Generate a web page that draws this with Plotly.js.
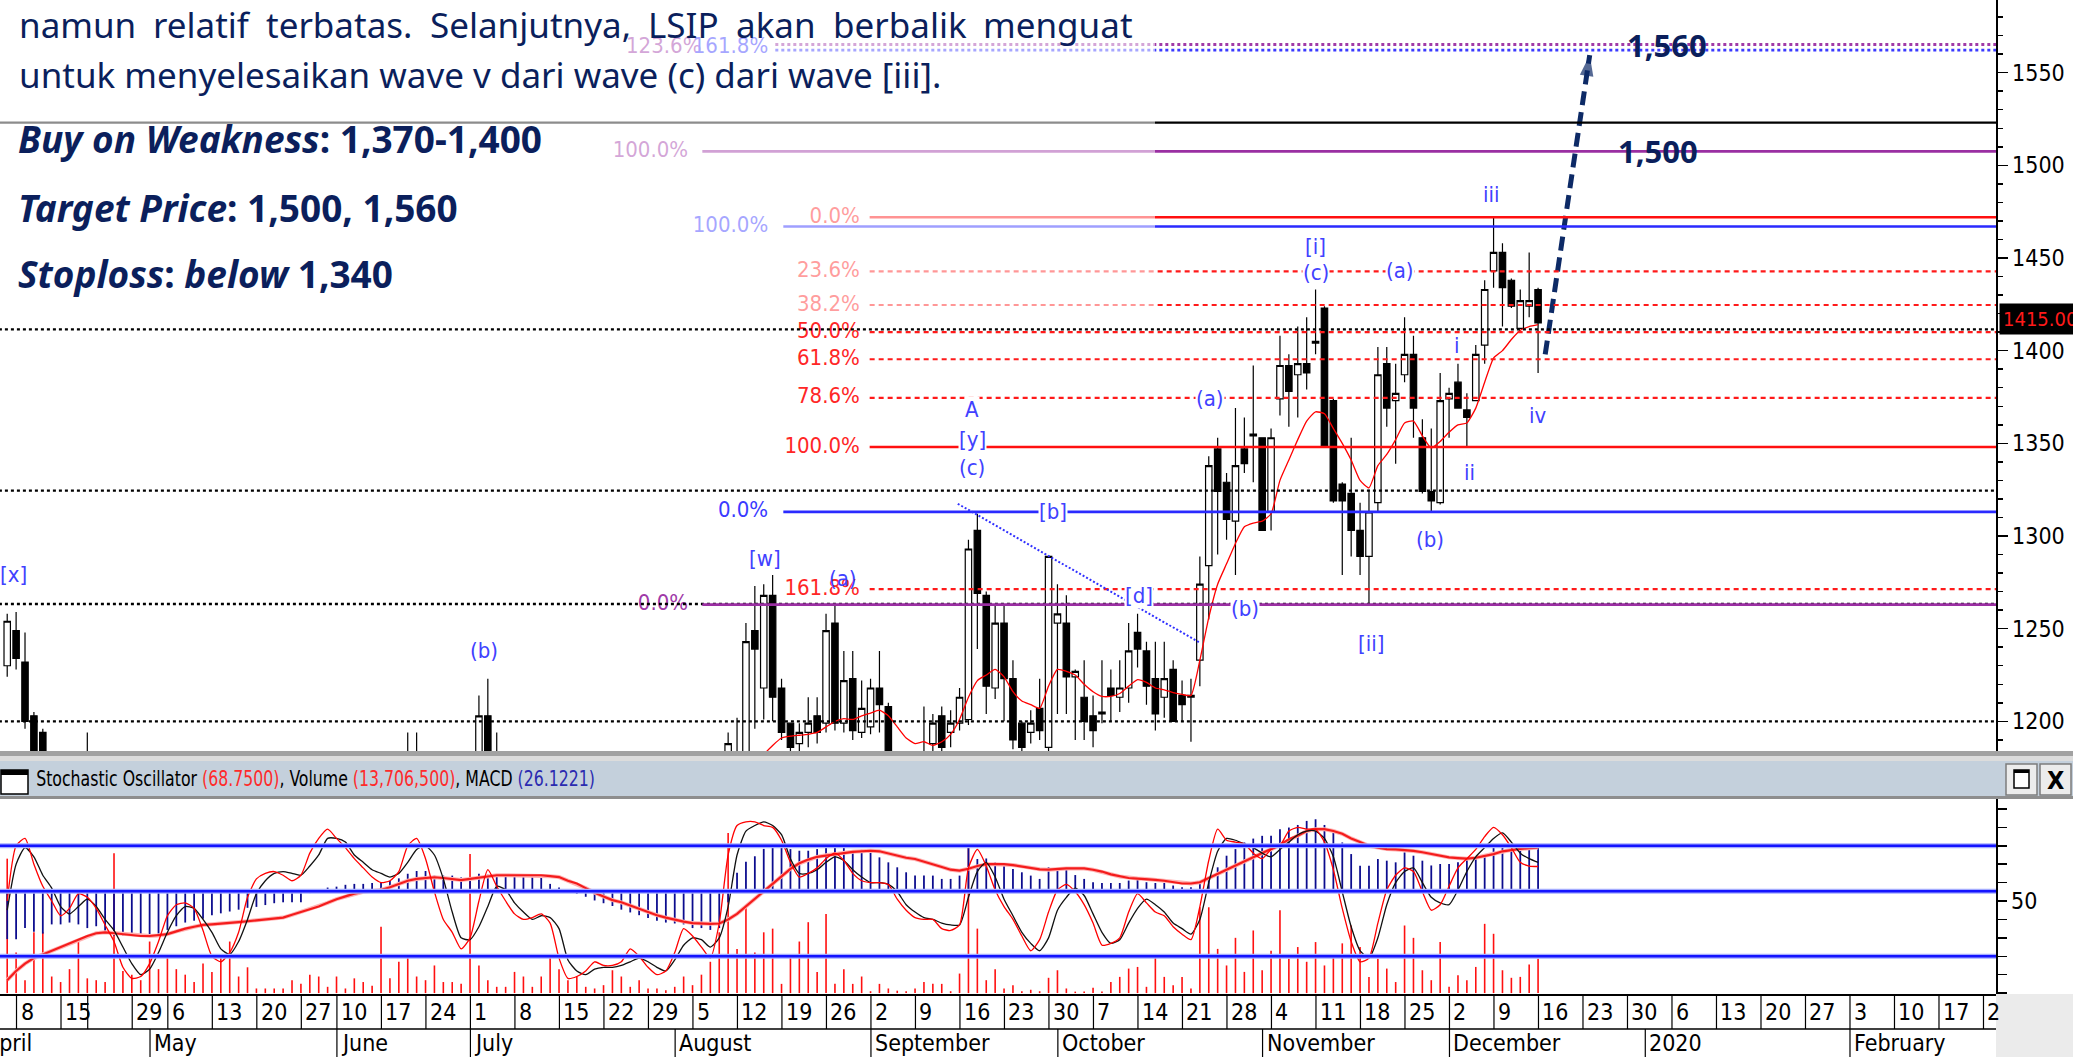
<!DOCTYPE html>
<html><head><meta charset="utf-8">
<script src="https://cdn.plot.ly/plotly-3.0.1.min.js"></script>
<style>html,body{margin:0;padding:0;background:#fff;overflow:hidden}#chart{width:2073px;height:1057px}</style>
</head><body><div id="chart"></div>
<script>
// ================= DATA =================
const holidays = ['2019-04-03','2019-04-17','2019-04-19','2019-05-01','2019-05-30',
  '2019-06-03','2019-06-04','2019-06-05','2019-06-06','2019-06-07'];
const axisStart = '2019-04-01', firstBarDate = '2019-04-04', lastBarDate = '2019-12-13', axisEnd = '2020-02-28';

const open = [1230,1249,1232,1203,1194,1172,1165,1150,1160,1168,
 1172,1160,1145,1130,1110,1098,1095,1104,1115,1126,
 1132,1134,1128,1114,1100,1096,1104,1114,1126,1132,
 1134,1136,1132,1131,1138,1146,1154,1158,1150,1148,
 1144,1142,1140,1142,1152,1168,1176,1172,1158,1146,
 1136,1130,1128,1150,1203,1176,1166,1156,1150,1146,
 1150,1152,1136,1116,1102,1104,1108,1112,1106,1108,
 1112,1118,1108,1098,1094,1102,1116,1130,1122,1114,
 1108,1150,1182,1176,1249,1218,1268,1218,1199,1188,
 1194,1203,1199,1253,1199,1223,1194,1197,1218,1208,
 1180,1170,1175,1172,1188,1203,1194,1199,1201,1303,
 1268,1218,1253,1223,1199,1194,1207,1186,1253,1253,
 1224,1213,1203,1204,1218,1213,1218,1248,1238,1223,
 1213,1228,1214,1213,1233,1284,1347,1329,1308,1347,
 1354,1353,1313,1374,1392,1387,1393,1404,1423,1373,
 1328,1323,1303,1289,1318,1393,1373,1387,1398,1353,
 1324,1318,1374,1383,1368,1373,1403,1443,1453,1438,
 1412,1424,1433];
const high = [1258,1259,1248,1205,1196,1180,1172,1165,1172,1194,
 1178,1165,1150,1135,1115,1104,1108,1118,1130,1138,
 1140,1138,1130,1118,1105,1108,1118,1130,1136,1140,
 1140,1140,1138,1142,1150,1158,1162,1160,1156,1152,
 1150,1146,1148,1158,1172,1194,1194,1176,1162,1150,
 1142,1136,1150,1214,1223,1194,1172,1162,1158,1156,
 1160,1156,1140,1120,1110,1112,1116,1116,1114,1118,
 1124,1120,1112,1104,1106,1120,1135,1134,1128,1120,
 1140,1194,1202,1253,1273,1274,1279,1223,1199,1199,
 1213,1213,1258,1263,1238,1238,1222,1223,1238,1210,
 1183,1178,1181,1208,1204,1208,1206,1218,1298,1312,
 1270,1263,1263,1233,1200,1206,1223,1289,1274,1268,
 1228,1233,1214,1233,1228,1233,1253,1258,1243,1243,
 1243,1233,1222,1223,1289,1343,1353,1334,1369,1364,
 1392,1353,1358,1408,1398,1413,1418,1433,1424,1374,
 1329,1353,1318,1325,1402,1402,1393,1418,1408,1363,
 1358,1388,1380,1393,1377,1403,1438,1472,1458,1439,
 1433,1453,1434];
const low = [1224,1228,1196,1176,1168,1158,1145,1146,1152,1160,
 1155,1140,1125,1105,1092,1088,1090,1100,1110,1120,
 1125,1122,1110,1096,1090,1092,1100,1110,1120,1126,
 1128,1128,1126,1128,1134,1142,1148,1146,1142,1138,
 1136,1134,1134,1138,1148,1160,1166,1154,1142,1132,
 1126,1122,1124,1146,1170,1162,1150,1144,1140,1140,
 1144,1132,1112,1098,1096,1098,1102,1100,1100,1102,
 1106,1104,1094,1088,1090,1098,1110,1116,1108,1100,
 1104,1146,1170,1172,1196,1201,1200,1190,1178,1182,
 1186,1188,1194,1195,1194,1190,1191,1193,1194,1175,
 1165,1160,1165,1168,1182,1180,1186,1195,1198,1239,
 1204,1212,1200,1185,1180,1188,1190,1183,1204,1204,
 1190,1190,1186,1199,1200,1205,1210,1229,1209,1195,
 1202,1200,1200,1189,1219,1255,1290,1298,1279,1334,
 1329,1303,1303,1365,1359,1364,1379,1398,1348,1318,
 1279,1289,1279,1263,1313,1359,1339,1383,1353,1323,
 1313,1317,1353,1369,1348,1373,1393,1434,1413,1423,
 1412,1418,1388];
const close = [1254,1234,1200,1180,1172,1165,1150,1160,1168,1172,
 1160,1145,1130,1110,1098,1095,1104,1115,1126,1132,
 1134,1128,1114,1100,1096,1104,1114,1126,1132,1134,
 1136,1132,1131,1138,1146,1154,1158,1150,1148,1144,
 1142,1140,1142,1152,1168,1176,1172,1158,1146,1136,
 1130,1128,1146,1203,1176,1166,1156,1150,1146,1150,
 1152,1136,1116,1102,1104,1108,1112,1106,1108,1112,
 1118,1108,1098,1094,1102,1116,1130,1122,1114,1108,
 1136,1188,1176,1243,1239,1268,1213,1194,1186,1194,
 1199,1194,1249,1199,1222,1195,1207,1218,1209,1180,
 1170,1175,1172,1180,1199,1186,1199,1213,1293,1269,
 1219,1253,1223,1190,1186,1199,1195,1289,1258,1224,
 1227,1200,1195,1205,1214,1218,1238,1239,1219,1204,
 1223,1200,1209,1214,1274,1338,1324,1309,1338,1339,
 1355,1303,1353,1392,1378,1393,1388,1405,1348,1319,
 1319,1303,1289,1313,1387,1369,1377,1398,1369,1324,
 1319,1373,1377,1369,1364,1398,1433,1453,1434,1424,
 1427,1427,1415];
// moving average (red line on price), starts at bar number maOffset
const maOffset = 84;
const ma = [1176,1182,1187,1191,1192,1192.5,1193,1194,1197,1200,
 1201.5,1201,1203,1204.5,1206,1203,1197,1191,1188,1189,
 1187,1189,1193,1201,1213,1222,1225,1228,1224,1216,
 1211,1209,1207,1219,1228,1227,1225,1220,1216,1213.5,
 1213.5,1215,1219,1222.5,1221,1218,1217,1215.5,1214.5,1214,
 1233,1256,1274,1285,1296,1305,1307,1308,1312,1330,
 1341,1352,1362,1367,1366,1358,1350,1341,1330,1326,
 1338,1344,1352,1361,1362,1354,1347.5,1351,1356,1360,
 1361,1369,1383,1396,1400,1406,1411,1413,1414];
// lower panel (values in the panel's 0-100 display scale)
const stochK = [50,80,84,70,58,50,42,46,54,52,
 46,37,28,14,8,9,16,28,42,48,
 49,46,34,20,17,22,33,52,62,65,
 66,64,61,64,76,84,89,84,79,73,
 68,63,60,61,66,80,84,73,55,40,
 33,24,30,50,67,58,50,43,40,41,
 43,38,19,8,9,12,17,15,15,17,
 24,20,14,10,12,22,35,31,25,19,
 38,75,91,93,93,91,90,83,71,63,
 65,68,73,76,72,65,61,60,60,59,
 51,45,41,40,40,35,34,37,68,78,
 69,56,47,40,31,23,29,44,56,59,
 55,48,38,26,27,30,44,54,49,44,
 42,36,32,29,47,72,89,83,82,81,
 76,73,78,80,88,90,89,89,82,67,
 46,28,17,19,38,56,64,68,66,55,
 45,48,58,68,73,78,85,90,86,79,
 71,69,68.75];
const stochD = [45,70,79,74,64,57,47,43,47,51,
 47,40,34,25,16,10,13,22,33,42,
 47,46,40,33,24,21,28,40,54,61,
 65,66,65,64,69,75,84,84,82,75,
 71,67,65,63,65,71,78,80,75,62,
 44,30,29,36,47,58,56,49,44,40,
 42,41,35,18,12,10,13,14,14,15,
 17,19,17,14,12,18,26,30,29,25,
 30,47,75,88,91,93,91,86,73,65,
 65,67,71,74,72,67,63,60,60,59,
 55,48,44,41,40,38,37,37,52,66,
 71,63,51,42,33,27,23,30,45,52,
 57,53,43,33,27,29,38,46,51,48,
 44,38,35,32,40,60,77,84,83,81,
 79,76,74,78,82,86,88,88,84,74,
 55,36,23,19,30,48,60,66,68,60,
 52,49,48,56,66,74,79,84,87,82,
 76,73,71];
const signal = [7,12,16,19,21,23,25,27,29,31,
 32.5,33,32.5,32,31.5,31,31,31.3,32,33.5,
 35,36,37,37.3,37.6,38,38.5,39,39.6,40,
 40.5,41,42.5,44,45.5,47,49,51,52.5,54,
 55,55.5,56,57.5,59.3,61,62,62.5,62.9,62.5,
 62,61.4,62,62.8,63.5,64,64,64,64,64,
 64,63.5,63,61,59.5,57,54.5,52.5,50.5,49.3,
 47.5,45.8,44,42.3,41,39.8,38.8,38,37.6,37.6,
 37.8,40,43,47,51,55,59.5,63,67.5,70.5,
 72.5,74,74.8,75.5,76,76.7,77,77.3,77,75.8,
 74.5,73.5,72.8,71.5,70,68.5,67,66.5,67.5,69,
 70,70,70,69.5,68.8,68,67.2,67,67.5,67.7,
 67.7,67.7,67,66,64.5,63.3,62.5,62.2,62,61.5,
 61,60.3,59.5,59.5,60.2,62.5,64.7,67,69.2,71.5,
 73.7,76,78,80.5,83.5,85.5,88,89,89,88,
 86.5,84,82,80,79,78.2,78,77.8,77.2,76.5,
 75.5,74.5,73.7,73.3,73,73.5,74.5,75.5,77,77.8,
 78.3,78.7,79];
const macd = [-26,-26,-20,-22,-23,-18,-18,-17,-18,-20,
 -19,-23,-24,-24,-24,-24,-24,-23,-21,-19,
 -17,-16,-15,-13,-12,-11,-10,-9,-8.5,-7.5,
 -6.5,-6,-6,-6,-1,1,2,2.5,3.5,4,
 4,4.5,5,5.5,7,9.5,11,11,8.5,8.5,
 8.5,7.5,7,9.5,9,8.8,8.8,8.8,8.8,8.5,
 7.6,4,2,0.5,-1.5,-3,-5,-6.5,-8,-10,
 -11.5,-13,-14.5,-16,-17,-17.5,-18,-20,-20,-21,
 -20,-6,10,16,19,23,25.6,24.7,22.9,22,
 22,22.9,24.3,24.3,23.8,22,22.5,22,18.4,15.7,
 13,10.3,8.5,8.5,8.5,6.7,6.7,8.5,23.8,17.5,
 17.8,15.7,14,12.1,10.3,8.5,6.7,13,11.2,11.7,
 8.8,6.7,4.9,4.5,4.5,4.5,5.8,6.7,4.9,4.5,
 4.5,3.1,2.2,2.2,5.2,6.7,13,19.3,22.9,26.5,
 28.6,30.1,30.1,33.7,34.6,36,38.2,39.1,36,31.9,
 26.5,20.2,13.9,13.9,17.5,16.6,15.7,21.1,19.3,16.6,
 14,14.8,14.8,15.7,17.5,18.4,20.2,24.7,25.6,24.7,
 23.8,24.7,24.7];
const volume = [73,22,7,33,33,9,6,13,28,8,
 7,6,76,12,10,7,28,13,20,13,
 10,6,16,11.5,20.5,28,9,14,2.5,2.5,
 2.5,2.5,7,5,10,9,3.4,9,2.5,8,
 6,4,36,8,17,20.5,9,7,15,6,
 6,5,75.5,15,7,3.4,3.4,11.5,9,3.4,
 9,20.5,13,7,9,3.4,2.5,4.3,12.4,9,
 3.4,7,2.5,2.5,1.6,3.4,9,4.3,10,17,
 33,87,24,46.6,22,33,35,5,21,28,
 38.5,11.5,43,5,13,5,9,1,5,2.5,
 1.3,1,2.5,6,5,5,1,10.6,79,35,
 7,13,2.5,4.3,1,1.8,1,8.3,12.4,2.5,
 0.8,0.8,2.9,0.8,6,8.8,13.3,14.2,3.4,20.5,
 8.8,4.3,8.8,2.5,46.6,46.6,24,15,30,11.5,
 34,12.4,23,45,18.7,25,17,27.7,15,20.5,
 27,36.7,25,8.8,18.7,13.3,6,36.7,30,12.4,
 7,27.7,3.4,9.7,7,14.2,37.6,32.2,12.4,8.3,
 8.8,15.5,18.7];
const stochBands = [80, 20];
const macdZero = 55.3;

// Fibonacci sets: [anchor 0%, anchor 100%]
const fibPurple = [1263, 1507.5], fibPurpleLevels = [0, 1, 1.236];
const fibBlue = [1313, 1467], fibBlueLevels = [0, 1, 1.618];
const fibRed = [1472, 1348], fibRedLevels = [0, 0.236, 0.382, 0.5, 0.618, 0.786, 1, 1.618];
const blackDotted = [1411.5, 1324.5, 1263.3, 1200];
const blackSolid = [1523];
const trendLine = [[108.8, 1317.4], [136.0, 1242.4]];
const projection = [[174.8, 1398], [179.8, 1559.5]];
const targets = [['1,560', 188.5, 1565], ['1,500', 187.5, 1507.5]];
const lastPrice = '1415.000';
const waveLabels = [
 ['[x]', 2.7, 1279, 0], ['(b)', 55.6, 1238, 0], ['[w]', 87.1, 1288, 0], ['(a)', 95.9, 1277, 0],
 ['A', 110.4, 1368, 1], ['[y]', 110.4, 1352, 1], ['(c)', 110.4, 1337, 0], ['[b]', 119.5, 1313, 1],
 ['[d]', 129.2, 1268, 1], ['(a)', 137.1, 1374, 1], ['(b)', 141.1, 1261, 1], ['[i]', 149.0, 1456, 0],
 ['(c)', 149.0, 1442, 1], ['(a)', 158.5, 1443, 1], ['[ii]', 155.2, 1242, 0], ['(b)', 161.9, 1298, 0],
 ['i', 164.9, 1403, 0], ['ii', 166.3, 1334, 0], ['iii', 168.8, 1484, 0], ['iv', 174.0, 1365, 0]];
const hiddenWeekLabels = ['2019-04-22'];
const monthNames = ['January','February','March','April','May','June','July','August','September','October','November','December'];
const headerParts = [['Stochastic Oscillator ', '#000'], ['(68.7500)', '#ff2a2a'], [', Volume ', '#000'], ['(13,706,500)', '#ff2a2a'], [', MACD ', '#000'], ['(26.1221)', '#2b2bb0']];
const paraLine1 = ['namun','relatif','terbatas.','Selanjutnya,','LSIP','akan','berbalik','menguat'];
const paraLine2 = 'untuk menyelesaikan wave v dari wave (c) dari wave [iii].';
const tradeLines = ['<b><i>Buy on Weakness</i>: 1,370-1,400</b>', '<b><i>Target Price</i>: 1,500, 1,560</b>', '<b><i>Stoploss</i>: <i>below</i> 1,340</b>'];

// ================= BUILD =================
const W = 2073, H = 1057, PLOTW = 1996, DAYPX = 8.9;
const NARROW = '"Liberation Sans Narrow","Arial Narrow","DejaVu Sans Condensed","Liberation Sans",sans-serif';
const NAVY = '#0b1f5c';
const PARA_SIZE = 35, TRADE_SIZE = 37, HEADER_SIZE = 21;
function ymd(d){return d.toISOString().slice(0,10);}
const axisDays = [];
for (let d = new Date(axisStart+'T00:00:00Z'); ymd(d) <= axisEnd; d.setUTCDate(d.getUTCDate()+1)) {
  const wd = d.getUTCDay(); if (wd===0 || wd===6) continue;
  const s = ymd(d); if (s <= lastBarDate && holidays.includes(s)) continue;
  axisDays.push(s);
}
const p0 = axisDays.indexOf(firstBarDate);
const barX = open.map((_,k)=>p0+k);
const maX = ma.map((_,k)=>p0+maOffset+k);
const XR = [1.19, 225.45];
const py = v => 1 - v/H;
const pxx = v => v/PLOTW;
const cv = document.createElement('canvas').getContext('2d');
function textW(txt, size, family){ cv.font = size + 'px ' + family; return cv.measureText(txt).width; }

const traces = [];
traces.push({type:'bar', x:barX, y:volume, width:0.18, marker:{color:'#ff1010', line:{width:0}}, xaxis:'x', yaxis:'y2', hoverinfo:'skip'});
traces.push({type:'bar', x:barX, y:macd, base:macdZero, width:0.2, marker:{color:'#0c0c8e', line:{width:0}}, xaxis:'x', yaxis:'y2', hoverinfo:'skip'});
traces.push({type:'scatter', mode:'lines', x:barX, y:signal, line:{color:'#ffb4b4', width:4}, xaxis:'x', yaxis:'y2', hoverinfo:'skip'});
traces.push({type:'scatter', mode:'lines', x:barX, y:signal, line:{color:'#f41c1c', width:2.2}, xaxis:'x', yaxis:'y2', hoverinfo:'skip'});
traces.push({type:'scatter', mode:'lines', x:barX, y:stochD, line:{color:'#111', width:1.3, shape:'spline', smoothing:0.6}, xaxis:'x', yaxis:'y2', hoverinfo:'skip'});
traces.push({type:'scatter', mode:'lines', x:barX, y:stochK, line:{color:'#ff0000', width:1.3, shape:'spline', smoothing:0.6}, xaxis:'x', yaxis:'y2', hoverinfo:'skip'});

traces.push({type:'candlestick', x:barX, open, high, low, close, xaxis:'x', yaxis:'y', whiskerwidth:0,
  increasing:{line:{color:'#000', width:1.2}, fillcolor:'#fff'},
  decreasing:{line:{color:'#000', width:1.2}, fillcolor:'#000'}, hoverinfo:'skip'});
traces.push({type:'scatter', mode:'lines', x:maX, y:ma, line:{color:'#ff0000', width:1.3, shape:'spline', smoothing:0.5}, xaxis:'x', yaxis:'y', hoverinfo:'skip'});

// fib labels as a text trace (so the translucent box can cover them)
const fl = {x:[], y:[], t:[], c:[]};
function fibSet(anchors, levels, labelX, color, topLabelX){
  levels.forEach(r=>{
    const v = anchors[0] + r*(anchors[1]-anchors[0]);
    const top = r > 1.1 && anchors[1] > anchors[0];
    fl.x.push(top ? topLabelX : labelX);
    fl.y.push(top ? 1563.6 : v);
    fl.t.push((r*100).toFixed(1)+'%'); fl.c.push(color);
  });
}
fibSet(fibPurple, fibPurpleLevels, 78.5, '#a03aa8', 80.0);
fibSet(fibBlue, fibBlueLevels, 87.5, '#3a3aff', 87.5);
fibSet(fibRed, fibRedLevels, 97.8, '#ff2626', 97.8);
traces.push({type:'scatter', mode:'text', x:fl.x, y:fl.y, text:fl.t, textposition:'middle left',
  textfont:{family:NARROW, size:22, color:fl.c}, xaxis:'x', yaxis:'y', hoverinfo:'skip', cliponaxis:false});

// projection arrow
traces.push({type:'scatter', mode:'lines', x:projection.map(p=>p[0]), y:projection.map(p=>p[1]),
  line:{color:'#0d2a66', width:5, dash:'14px,7px'}, xaxis:'x', yaxis:'y', hoverinfo:'skip'});
traces.push({type:'scatter', mode:'markers', x:projection.map(p=>p[0]), y:projection.map(p=>p[1]),
  marker:{symbol:['circle','arrow'], size:[0,22], angleref:'previous', color:'#0d2a66', line:{width:0}}, xaxis:'x', yaxis:'y', hoverinfo:'skip'});

// ---------- shapes ----------
const shapes = [];
function hl(y, x0, color, width, dash){ shapes.push({type:'line', xref:'x', yref:'y', x0:x0, x1:240, y0:y, y1:y, line:{color, width, dash:dash||'solid'}, layer:'above'}); }
blackSolid.forEach(v=>hl(v, -5, '#000', 2.2));
blackDotted.forEach(v=>hl(v, -5, '#000', 2.4, '3px,3px'));
fibPurpleLevels.forEach(r=>{ const v=fibPurple[0]+r*(fibPurple[1]-fibPurple[0]); r>1.1 ? hl(v, 88.3, '#a03aa8', 2.8, '3px,3px') : hl(v, 80.1, '#9a2fa2', 2.8); });
fibBlueLevels.forEach(r=>{ const v=fibBlue[0]+r*(fibBlue[1]-fibBlue[0]); r>1.1 ? hl(v, 88.3, '#3a3aff', 2.8, '3px,3px') : hl(v, 89.2, '#2a2aff', 2.6); });
fibRedLevels.forEach(r=>{ const v=fibRed[0]+r*(fibRed[1]-fibRed[0]); (r===0||r===1) ? hl(v, 98.9, '#ff1010', 2.4) : hl(v, 98.9, '#ff1a1a', 2.2, '5px,4px'); });
shapes.push({type:'line', xref:'x', yref:'y', x0:trendLine[0][0], y0:trendLine[0][1], x1:trendLine[1][0], y1:trendLine[1][1], line:{color:'#3030ff', width:2, dash:'2px,2px'}, layer:'above'});
[stochBands[0], macdZero, stochBands[1]].forEach(v=>{
  shapes.push({type:'line', xref:'paper', yref:'y2', x0:0, x1:1, y0:v, y1:v, line:{color:'#a4acff', width:5}, layer:'above'});
  shapes.push({type:'line', xref:'paper', yref:'y2', x0:0, x1:1, y0:v, y1:v, line:{color:'#1414ff', width:2.4}, layer:'above'});
});
shapes.push({type:'rect', xref:'paper', yref:'paper', x0:0, x1:pxx(1155), y0:py(315), y1:1, fillcolor:'rgba(255,255,255,0.55)', line:{width:0}, layer:'above'});
const XF = W/PLOTW;
shapes.push({type:'rect', xref:'paper', yref:'paper', x0:-0.01, x1:XF, y0:py(756), y1:py(751), fillcolor:'#a2a2a2', line:{width:0}, layer:'above'});
shapes.push({type:'rect', xref:'paper', yref:'paper', x0:-0.01, x1:XF, y0:py(761), y1:py(756), fillcolor:'#dcdcdc', line:{width:0}, layer:'above'});
shapes.push({type:'rect', xref:'paper', yref:'paper', x0:-0.01, x1:XF, y0:py(796), y1:py(761), fillcolor:'#c4d0dc', line:{width:0}, layer:'above'});
shapes.push({type:'rect', xref:'paper', yref:'paper', x0:-0.01, x1:XF, y0:py(799), y1:py(796), fillcolor:'#8e8e8e', line:{width:0}, layer:'above'});
shapes.push({type:'rect', xref:'paper', yref:'paper', x0:pxx(1), x1:pxx(28), y0:py(794), y1:py(770), fillcolor:'#fff', line:{color:'#000', width:1.5}, layer:'above'});
shapes.push({type:'rect', xref:'paper', yref:'paper', x0:pxx(1), x1:pxx(28), y0:py(775), y1:py(770), fillcolor:'#000', line:{width:0}, layer:'above'});
[[2006,2037],[2040,2071]].forEach(b=>shapes.push({type:'rect', xref:'paper', yref:'paper', x0:pxx(b[0]), x1:pxx(b[1]), y0:py(795), y1:py(764), fillcolor:'#ececec', line:{color:'#7c7c7c', width:1.5}, layer:'above'}));
shapes.push({type:'rect', xref:'paper', yref:'paper', x0:pxx(2014), x1:pxx(2029), y0:py(788), y1:py(770), fillcolor:'#fff', line:{color:'#000', width:1.5}, layer:'above'});
shapes.push({type:'rect', xref:'paper', yref:'paper', x0:pxx(2014), x1:pxx(2029), y0:py(773), y1:py(770), fillcolor:'#000', line:{width:0}, layer:'above'});
shapes.push({type:'rect', xref:'paper', yref:'paper', x0:1, x1:XF, y0:0, y1:py(994), fillcolor:'#ebebeb', line:{width:0}, layer:'above'});
shapes.push({type:'line', xref:'paper', yref:'paper', x0:0, x1:1, y0:py(1029), y1:py(1029), line:{color:'#000', width:1.5}, layer:'above'});

// ---------- annotations ----------
const ann = [];
const DIGITPX = 11;
let prevWeek = null, prevMonth = null;
axisDays.forEach((s,p)=>{
  const d = new Date(s+'T00:00:00Z');
  const monday = new Date(d); monday.setUTCDate(d.getUTCDate() - ((d.getUTCDay()+6)%7));
  const wk = ymd(monday), mo = s.slice(0,7);
  const sep = p - 0.955;
  if (wk !== prevWeek) {
    prevWeek = wk;
    shapes.push({type:'line', xref:'x', yref:'paper', x0:sep, x1:sep, y0:py(1029), y1:py(994), line:{color:'#000', width:1.2}, layer:'above'});
    if (!hiddenWeekLabels.includes(wk) && sep > XR[0] && sep < XR[1]) {
      let txt = String(d.getUTCDate());
      const room = (XR[1]-sep)*DAYPX - 2;
      if (room < txt.length*DIGITPX) txt = txt.slice(0, Math.max(1, Math.floor(room/DIGITPX)));
      ann.push({xref:'x', yref:'paper', x:sep, y:py(1012), xanchor:'left', yanchor:'middle', xshift:2, showarrow:false, text:txt, font:{family:NARROW, size:23, color:'#000'}});
    }
  }
  if (mo !== prevMonth) {
    prevMonth = mo;
    shapes.push({type:'line', xref:'x', yref:'paper', x0:sep, x1:sep, y0:0, y1:py(1029), line:{color:'#000', width:1.2}, layer:'above'});
    const m = d.getUTCMonth();
    const label = m===0 ? String(d.getUTCFullYear()) : monthNames[m];
    if (sep > XR[0]) ann.push({xref:'x', yref:'paper', x:sep, y:py(1043), xanchor:'left', yanchor:'middle', xshift:2, showarrow:false, text:label, font:{family:NARROW, size:23, color:'#000'}});
    else ann.push({xref:'paper', yref:'paper', x:(sep-XR[0])/(XR[1]-XR[0]), y:py(1043), xanchor:'left', yanchor:'middle', xshift:2, showarrow:false, text:label, font:{family:NARROW, size:23, color:'#000'}});
  }
});
waveLabels.forEach(w=>ann.push({xref:'x', yref:'y', x:w[1], y:w[2], xanchor:'center', yanchor:'middle', text:w[0], showarrow:false, font:{family:NARROW, size:22, color:'#4141ff'}, bgcolor: w[3] ? '#fff' : 'rgba(0,0,0,0)', borderpad:0}));
targets.forEach(t=>ann.push({xref:'x', yref:'y', x:t[1], y:t[2], xanchor:'center', yanchor:'middle', text:'<b>'+t[0]+'</b>', showarrow:false, font:{family:'Noto Sans', size:31, color:NAVY}}));
ann.push({xref:'paper', yref:'y', x:pxx(1999), y:1417, xanchor:'left', yanchor:'middle', text:lastPrice, showarrow:false, font:{family:NARROW, size:20, color:'#ff1a1a'}, bgcolor:'#000', borderpad:3});
// header text (narrowed after drawing so it spans the reference width)
const HEADER_LEFT = 36, HEADER_RIGHT = 595;
const headerPlain = headerParts.map(p=>p[0]).join('');
const headerScale = Math.min(1, (HEADER_RIGHT-HEADER_LEFT) / textW(headerPlain, HEADER_SIZE, NARROW));
const headerText = headerParts.map(p=>p[1]==='#000' ? p[0] : '<span style="color:'+p[1]+'">'+p[0]+'</span>').join('');
const headerIndex = ann.length;
ann.push({xref:'paper', yref:'paper', x:pxx(HEADER_LEFT), y:py(779), xanchor:'left', yanchor:'middle', xshift:-1, text:headerText, showarrow:false, font:{family:NARROW, size:HEADER_SIZE, color:'#000'}, borderpad:0});
ann.push({xref:'paper', yref:'paper', x:pxx(2055.5), y:py(780), xanchor:'center', yanchor:'middle', text:'<b>X</b>', showarrow:false, font:{family:NARROW, size:25, color:'#000'}});

// justified first paragraph line
const L1_LEFT = 19, L1_RIGHT = 1133;
const wWidths = paraLine1.map(w=>textW(w, PARA_SIZE, '"Noto Sans"'));
const gap = (L1_RIGHT - L1_LEFT - wWidths.reduce((a,b)=>a+b,0)) / (paraLine1.length-1);
let cx = L1_LEFT;
paraLine1.forEach((w,i)=>{
  ann.push({xref:'paper', yref:'paper', x:pxx(cx), y:py(24), xanchor:'left', yanchor:'middle', xshift:-1, text:w, showarrow:false, font:{family:'Noto Sans', size:PARA_SIZE, color:NAVY}, borderpad:0});
  cx += wWidths[i] + gap;
});
ann.push({xref:'paper', yref:'paper', x:pxx(L1_LEFT), y:py(74), xanchor:'left', yanchor:'middle', xshift:-1, text:paraLine2, showarrow:false, font:{family:'Noto Sans', size:PARA_SIZE, color:NAVY}, borderpad:0});
[138, 208, 274].forEach((yy,i)=>ann.push({xref:'paper', yref:'paper', x:pxx(17), y:py(yy), xanchor:'left', yanchor:'middle', text:tradeLines[i], showarrow:false, font:{family:'Noto Sans', size:TRADE_SIZE, color:NAVY}, borderpad:0}));

const tv = [], tt = [];
for (let v=0; v<=100; v+=10){ tv.push(v); tt.push(v===50 ? '50' : ''); }

const layout = {
  width:W, height:H, margin:{l:0, r:W-PLOTW, t:0, b:0, pad:0},
  paper_bgcolor:'#fff', plot_bgcolor:'#fff', showlegend:false,
  boxgap:0.28, boxgroupgap:0, barmode:'overlay', hovermode:false,
  xaxis:{domain:[0,1], range:XR, anchor:'y2', showticklabels:false, ticks:'', showgrid:false, zeroline:false,
    showline:true, linecolor:'#000', linewidth:1.5, rangeslider:{visible:false}, fixedrange:true},
  yaxis:{domain:[1-751/H, 1], range:[1184, 1589.2], side:'right', anchor:'x', showline:true, linecolor:'#000', linewidth:1.5,
    ticks:'outside', ticklen:10, tickwidth:1.5, tickcolor:'#000', tickmode:'linear', tick0:0, dtick:50, showgrid:false, zeroline:false,
    tickfont:{family:NARROW, size:23, color:'#000'}, minor:{dtick:10, tick0:0, ticks:'outside', ticklen:5, tickcolor:'#000', showgrid:false}, fixedrange:true},
  yaxis2:{domain:[1-994/H, 1-799/H], range:[-0.5, 105.4], side:'right', anchor:'x', showline:true, linecolor:'#000', linewidth:1.5,
    ticks:'outside', ticklen:9, tickwidth:1.5, tickcolor:'#000', tickmode:'array', tickvals:tv, ticktext:tt, showgrid:false, zeroline:false,
    tickfont:{family:NARROW, size:23, color:'#000'}, fixedrange:true},
  shapes:shapes, annotations:ann
};
Plotly.newPlot('chart', traces, layout, {staticPlot:true, displayModeBar:false}).then(()=>{
  if (headerScale < 0.999) {
    const t = document.querySelector('.annotation[data-index="'+headerIndex+'"] text');
    if (t) { t.style.transformBox = 'fill-box'; t.style.transformOrigin = '0% 50%'; t.style.transform = 'scaleX('+headerScale.toFixed(4)+')'; }
  }
});
</script></body></html>
